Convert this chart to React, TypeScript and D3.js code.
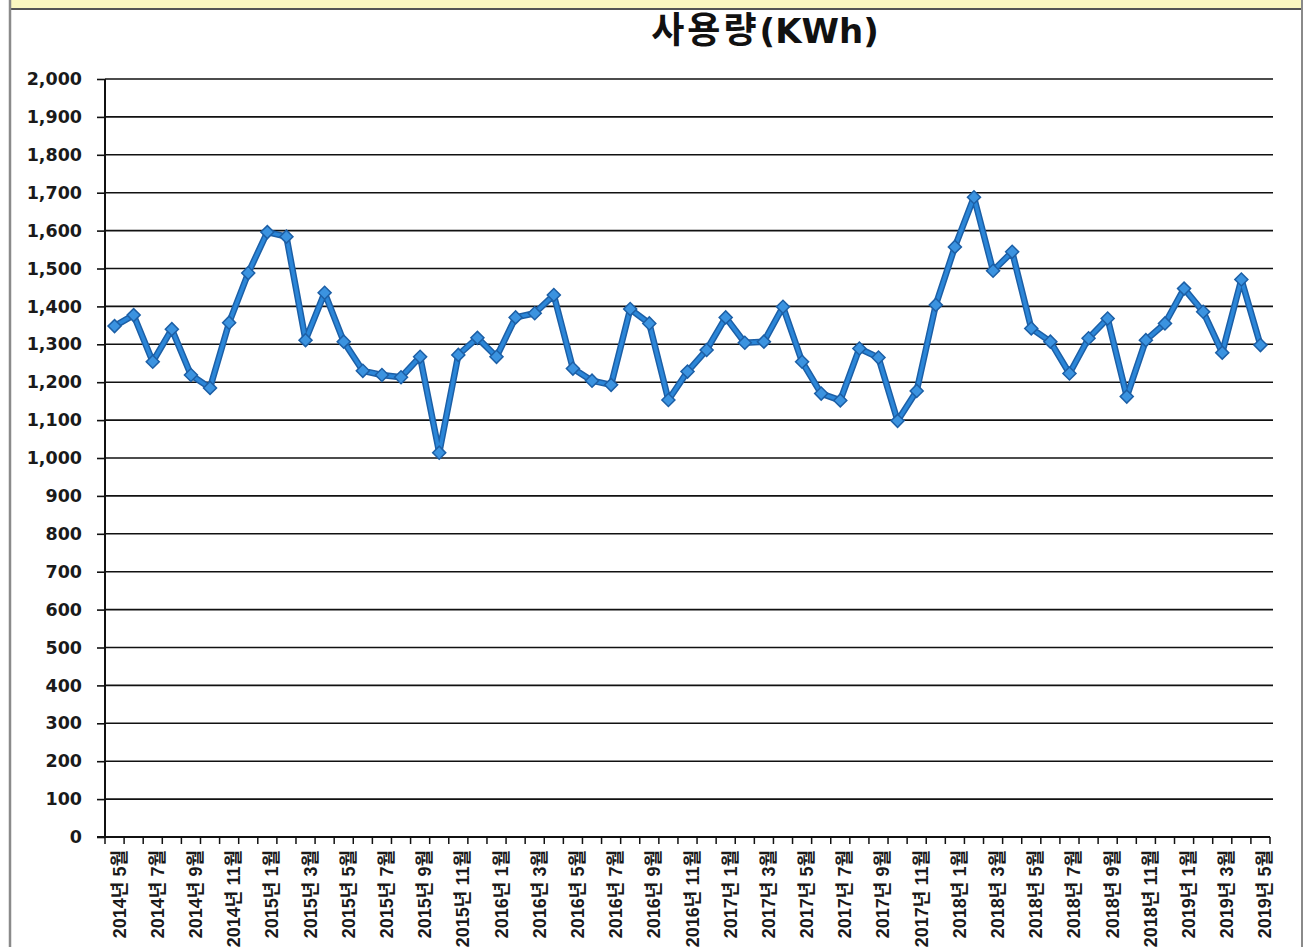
import React, { useEffect, useRef } from 'react';
import * as d3 from 'd3';

// monthly usage, 2014-05 .. 2019-05
const months = [
  '2014-05', '2014-06', '2014-07', '2014-08', '2014-09', '2014-10', '2014-11', '2014-12',
  '2015-01', '2015-02', '2015-03', '2015-04', '2015-05', '2015-06', '2015-07', '2015-08', '2015-09', '2015-10', '2015-11', '2015-12',
  '2016-01', '2016-02', '2016-03', '2016-04', '2016-05', '2016-06', '2016-07', '2016-08', '2016-09', '2016-10', '2016-11', '2016-12',
  '2017-01', '2017-02', '2017-03', '2017-04', '2017-05', '2017-06', '2017-07', '2017-08', '2017-09', '2017-10', '2017-11', '2017-12',
  '2018-01', '2018-02', '2018-03', '2018-04', '2018-05', '2018-06', '2018-07', '2018-08', '2018-09', '2018-10', '2018-11', '2018-12',
  '2019-01', '2019-02', '2019-03', '2019-04', '2019-05',
];

const usage = [
  1348, 1377, 1254, 1340, 1219, 1185, 1357, 1488,
  1596, 1584, 1311, 1436, 1307, 1230, 1219, 1213, 1267, 1014, 1272, 1317,
  1267, 1371, 1382, 1430, 1236, 1204, 1193, 1393, 1355, 1153, 1228, 1285,
  1371, 1304, 1307, 1399, 1254, 1170, 1152, 1289, 1265, 1098, 1177, 1404,
  1557, 1688, 1494, 1544, 1342, 1307, 1223, 1316, 1368, 1162, 1311, 1355,
  1447, 1386, 1278, 1471, 1298,
];

// every second month gets a label
const xLabels: Record<string, string> = {
  '2014-05': '2014년 5월', '2014-07': '2014년 7월', '2014-09': '2014년 9월', '2014-11': '2014년 11월',
  '2015-01': '2015년 1월', '2015-03': '2015년 3월', '2015-05': '2015년 5월', '2015-07': '2015년 7월',
  '2015-09': '2015년 9월', '2015-11': '2015년 11월',
  '2016-01': '2016년 1월', '2016-03': '2016년 3월', '2016-05': '2016년 5월', '2016-07': '2016년 7월',
  '2016-09': '2016년 9월', '2016-11': '2016년 11월',
  '2017-01': '2017년 1월', '2017-03': '2017년 3월', '2017-05': '2017년 5월', '2017-07': '2017년 7월',
  '2017-09': '2017년 9월', '2017-11': '2017년 11월',
  '2018-01': '2018년 1월', '2018-03': '2018년 3월', '2018-05': '2018년 5월', '2018-07': '2018년 7월',
  '2018-09': '2018년 9월', '2018-11': '2018년 11월',
  '2019-01': '2019년 1월', '2019-03': '2019년 3월', '2019-05': '2019년 5월',
};

const yTicks = d3.range(0, 2001, 100);

const W = 1307;
const H = 947;

const App = () => {
  const svgRef = useRef<SVGSVGElement>(null);

  useEffect(() => {
    const svg = d3.select(svgRef.current);
    svg.selectAll('*').remove();

    const left = 105;
    const right = 1270;
    const top = 79;
    const bottom = 837;

    // frame: yellow strip on top and grey side borders
    svg.append('rect').attr('x', 10).attr('y', 0).attr('width', 1292).attr('height', 9).attr('fill', '#fbf7c0');
    svg.append('line').attr('x1', 10).attr('x2', 1302).attr('y1', 9).attr('y2', 9)
      .attr('stroke', '#555').attr('stroke-width', 2);
    svg.append('line').attr('x1', 10).attr('x2', 10).attr('y1', 0).attr('y2', H)
      .attr('stroke', '#8a8a8a').attr('stroke-width', 2.5);
    svg.append('line').attr('x1', 1302).attr('x2', 1302).attr('y1', 0).attr('y2', H)
      .attr('stroke', '#8a8a8a').attr('stroke-width', 2);

    const x = d3.scaleBand<string>().domain(months).range([left, right]).padding(0);
    const y = d3.scaleLinear().domain([0, 2000]).range([bottom, top]);
    const cx = (m: string) => (x(m) ?? 0) + x.bandwidth() / 2;

    // Title
    const title = svg.append('text')
      .attr('x', 765)
      .attr('y', 43)
      .attr('text-anchor', 'middle')
      .attr('font-weight', 'bold')
      .attr('fill', '#111');
    title.append('tspan')
      .attr('font-family', '"Noto Sans CJK KR", sans-serif')
      .attr('font-size', 36)
      .attr('letter-spacing', 3)
      .text('사용량');
    title.append('tspan')
      .attr('font-family', '"DejaVu Sans", sans-serif')
      .attr('font-size', 34)
      .text('(KWh)');

    // Gridlines + y axis
    const yAxis = svg.append('g')
      .attr('transform', `translate(${left},0)`)
      .call(d3.axisLeft(y).tickValues(yTicks).tickSize(8).tickPadding(15)
        .tickFormat(d => d3.format(',')(d as number)));
    yAxis.select('.domain').remove();
    yAxis.selectAll('.tick line').attr('stroke', '#111').attr('stroke-width', 1.6);
    yAxis.selectAll('.tick text')
      .attr('font-family', '"DejaVu Sans", sans-serif')
      .attr('font-weight', 'bold')
      .attr('font-size', 17.5)
      .attr('fill', '#1a1a1a');

    svg.append('g')
      .selectAll('line')
      .data(yTicks.filter(t => t > 0))
      .enter()
      .append('line')
      .attr('x1', left)
      .attr('x2', 1273)
      .attr('y1', d => y(d))
      .attr('y2', d => y(d))
      .attr('stroke', '#111')
      .attr('stroke-width', 1.6);

    svg.append('line')
      .attr('x1', left).attr('x2', left)
      .attr('y1', top).attr('y2', bottom)
      .attr('stroke', '#111').attr('stroke-width', 2);

    // x axis with a tick at every band edge
    svg.append('line')
      .attr('x1', left - 8).attr('x2', right)
      .attr('y1', bottom).attr('y2', bottom)
      .attr('stroke', '#111').attr('stroke-width', 2);
    const edges = months.map(m => x(m) ?? 0).concat([right]);
    svg.append('g')
      .selectAll('line')
      .data(edges)
      .enter()
      .append('line')
      .attr('x1', d => d).attr('x2', d => d)
      .attr('y1', bottom).attr('y2', bottom + 7)
      .attr('stroke', '#111').attr('stroke-width', 1.5);

    svg.append('g')
      .selectAll('text')
      .data(months.filter(m => xLabels[m]))
      .enter()
      .append('text')
      .attr('transform', m => `translate(${cx(m) + 11},${bottom + 13}) rotate(-90)`)
      .attr('text-anchor', 'end')
      .attr('font-family', '"Liberation Sans", "Noto Sans CJK KR", sans-serif')
      .attr('font-weight', 'bold')
      .attr('font-size', 18)
      .attr('fill', '#1a1a1a')
      .text(m => xLabels[m]);

    // Series line
    const points = months.map((m, i) => ({ m, v: usage[i] }));
    const line = d3.line<{ m: string; v: number }>()
      .x(d => cx(d.m))
      .y(d => y(d.v));

    svg.append('path')
      .datum(points)
      .attr('fill', 'none')
      .attr('stroke', '#1c5fa6')
      .attr('stroke-width', 6.5)
      .attr('stroke-linejoin', 'round')
      .attr('d', line);
    svg.append('path')
      .datum(points)
      .attr('fill', 'none')
      .attr('stroke', '#2b86d8')
      .attr('stroke-width', 3.5)
      .attr('stroke-linejoin', 'round')
      .attr('d', line);

    // diamond markers
    const diamond = d3.symbol().type(d3.symbolSquare).size(85);
    svg.append('g')
      .selectAll('path')
      .data(points)
      .enter()
      .append('path')
      .attr('d', diamond())
      .attr('transform', d => `translate(${cx(d.m)},${y(d.v)}) rotate(45)`)
      .attr('fill', '#3b93e0')
      .attr('stroke', '#1c5fa6')
      .attr('stroke-width', 1.5);
  }, []);

  return (
    <div style={{ position: 'absolute', left: 0, top: 0, width: W, height: H, background: '#fff' }}>
      <svg ref={svgRef} width={W} height={H} style={{ display: 'block' }}></svg>
    </div>
  );
};

export default App;
